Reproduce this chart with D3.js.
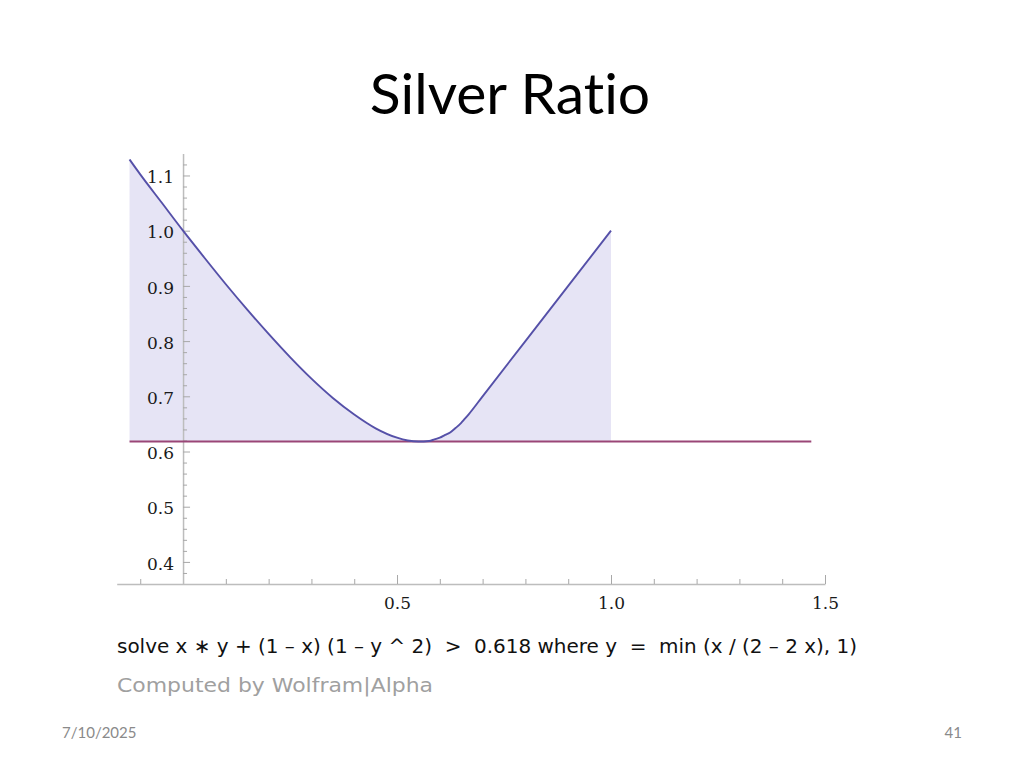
<!DOCTYPE html>
<html>
<head>
<meta charset="utf-8">
<script src="https://cdn.jsdelivr.net/npm/d3@7"></script>
<style>
  body { margin: 0; background: #fff; }
  svg { display: block; }
  .tick text { font-family: "DejaVu Serif", "Liberation Serif", serif; font-size: 17px; fill: #1a1a1a; }
</style>
</head>
<body>
<svg id="drawing"></svg>
<script>
const curveX = [-0.125, -0.1, -0.05, 0, 0.05, 0.1, 0.15, 0.2, 0.25, 0.3, 0.35, 0.4, 0.45,
                0.5, 0.525, 0.55, 0.575, 0.5875, 0.6, 0.6125, 0.625, 0.6375, 0.65, 0.658, 0.667,
                0.7, 0.8, 0.9, 1.0];
const curveY = [1.129, 1.102, 1.051, 1.0, 0.951, 0.903, 0.857, 0.813, 0.771, 0.732, 0.697, 0.667, 0.642,
                0.625, 0.620, 0.618, 0.619, 0.622, 0.625, 0.630, 0.635, 0.643, 0.652, 0.659, 0.667,
                0.7, 0.8, 0.9, 1.0];
const thresholdX = [-0.125, 1.468];
const thresholdY = [0.618, 0.618];

const xMajor = [0.5, 1.0, 1.5];
const xMinor = [-0.1, 0.1, 0.2, 0.3, 0.4, 0.6, 0.7, 0.8, 0.9, 1.1, 1.2, 1.3, 1.4];
const yMajor = [0.4, 0.5, 0.6, 0.7, 0.8, 0.9, 1.0, 1.1];
const yMinor = [0.38, 0.42, 0.44, 0.46, 0.48, 0.52, 0.54, 0.56, 0.58, 0.62, 0.64, 0.66, 0.68,
                0.72, 0.74, 0.76, 0.78, 0.82, 0.84, 0.86, 0.88, 0.92, 0.94, 0.96, 0.98,
                1.02, 1.04, 1.06, 1.08, 1.12];

const title = "Silver Ratio";
const formula = "solve x \u2217 y + (1 \u2013 x) (1 \u2013 y ^ 2)  >  0.618 where y  =  min (x / (2 \u2013 2 x), 1)";
const credit = "Computed by Wolfram|Alpha";
const dateText = "7/10/2025";
const pageText = "41";

const width = 1024, height = 768;

const svg = d3.select('#drawing')
    .attr('width', width)
    .attr('height', height);

const xscale = d3.scaleLinear()
    .domain([-0.155, 1.5])
    .range([116.7, 825]);

const yscale = d3.scaleLinear()
    .domain([0.36, 1.14])
    .range([584, 153.4]);

const axisY0 = xscale(0);
const axisX0 = yscale(0.36);

// title
svg.append('text')
    .attr('x', 510)
    .attr('y', 114)
    .attr('text-anchor', 'middle')
    .attr('font-family', 'Lato, "Open Sans", sans-serif')
    .attr('font-size', '57px')
    .style('font-variant-ligatures', 'none')
    .attr('fill', '#000')
    .text(title);

const chart = svg.append('g');

// shaded region between the curve and 0.618
const pts = curveX.map((x, i) => ({x: x, y: curveY[i]}));

const area = d3.area()
    .x(d => xscale(d.x))
    .y0(yscale(thresholdY[0]))
    .y1(d => yscale(d.y))
    .curve(d3.curveMonotoneX);

chart.append('path')
    .datum(pts)
    .attr('d', area)
    .attr('fill', '#e6e4f5');

// x axis
const xaxis = d3.axisBottom(xscale)
    .tickValues(xMajor)
    .tickSize(-9)
    .tickPadding(8)
    .tickSizeOuter(0)
    .tickFormat(d3.format('.1f'));

const xaxis_group = chart.append('g')
    .attr('transform', `translate(0, ${axisX0})`)
    .call(xaxis);
xaxis_group.selectAll('.tick text').attr('dy', '1.0em');

chart.append('g')
    .attr('transform', `translate(0, ${axisX0})`)
    .call(d3.axisBottom(xscale).tickValues(xMinor).tickSize(-5).tickFormat('').tickSizeOuter(0))
    .select('.domain').remove();

// y axis
const yaxis = d3.axisLeft(yscale)
    .tickValues(yMajor)
    .tickSize(-7)
    .tickPadding(9)
    .tickSizeOuter(0)
    .tickFormat(d3.format('.1f'));

const yaxis_group = chart.append('g')
    .attr('transform', `translate(${axisY0}, 0)`)
    .call(yaxis);
yaxis_group.selectAll('.tick text').attr('dy', '0.42em');

chart.append('g')
    .attr('transform', `translate(${axisY0}, 0)`)
    .call(d3.axisLeft(yscale).tickValues(yMinor).tickSize(-4).tickFormat('').tickSizeOuter(0))
    .select('.domain').remove();

chart.selectAll('.domain').attr('stroke', '#bdbdbd').attr('stroke-width', 1.5);
chart.selectAll('.tick line').attr('stroke', '#a8a8a8');

// threshold line
const line = d3.line()
    .x(d => xscale(d.x))
    .y(d => yscale(d.y));

chart.append('path')
    .datum(thresholdX.map((x, i) => ({x: x, y: thresholdY[i]})))
    .attr('d', line)
    .attr('fill', 'none')
    .attr('stroke', '#9a4677')
    .attr('stroke-width', 2);

// the curve
chart.append('path')
    .datum(pts)
    .attr('d', line.curve(d3.curveMonotoneX))
    .attr('fill', 'none')
    .attr('stroke', '#5550a8')
    .attr('stroke-width', 1.9);

// query text and credit
svg.append('text')
    .attr('x', 117)
    .attr('y', 653)
    .attr('font-family', '"DejaVu Sans Condensed", "DejaVu Sans", sans-serif')
    .attr('font-size', '20px')
    .attr('fill', '#111')
    .attr('textLength', 740)
    .attr('lengthAdjust', 'spacingAndGlyphs')
    .style('white-space', 'pre')
    .text(formula);

svg.append('text')
    .attr('x', 117)
    .attr('y', 692)
    .attr('font-family', '"DejaVu Sans", sans-serif')
    .attr('font-size', '19px')
    .attr('fill', '#a0a0a0')
    .attr('textLength', 316)
    .attr('lengthAdjust', 'spacingAndGlyphs')
    .text(credit);

// footer
svg.append('text')
    .attr('x', 62)
    .attr('y', 738)
    .attr('font-family', 'Lato, sans-serif')
    .attr('font-size', '15px')
    .attr('fill', '#8a8a8a')
    .text(dateText);

svg.append('text')
    .attr('x', 962)
    .attr('y', 738)
    .attr('text-anchor', 'end')
    .attr('font-family', 'Lato, sans-serif')
    .attr('font-size', '15px')
    .attr('fill', '#8a8a8a')
    .text(pageText);
</script>
</body>
</html>
